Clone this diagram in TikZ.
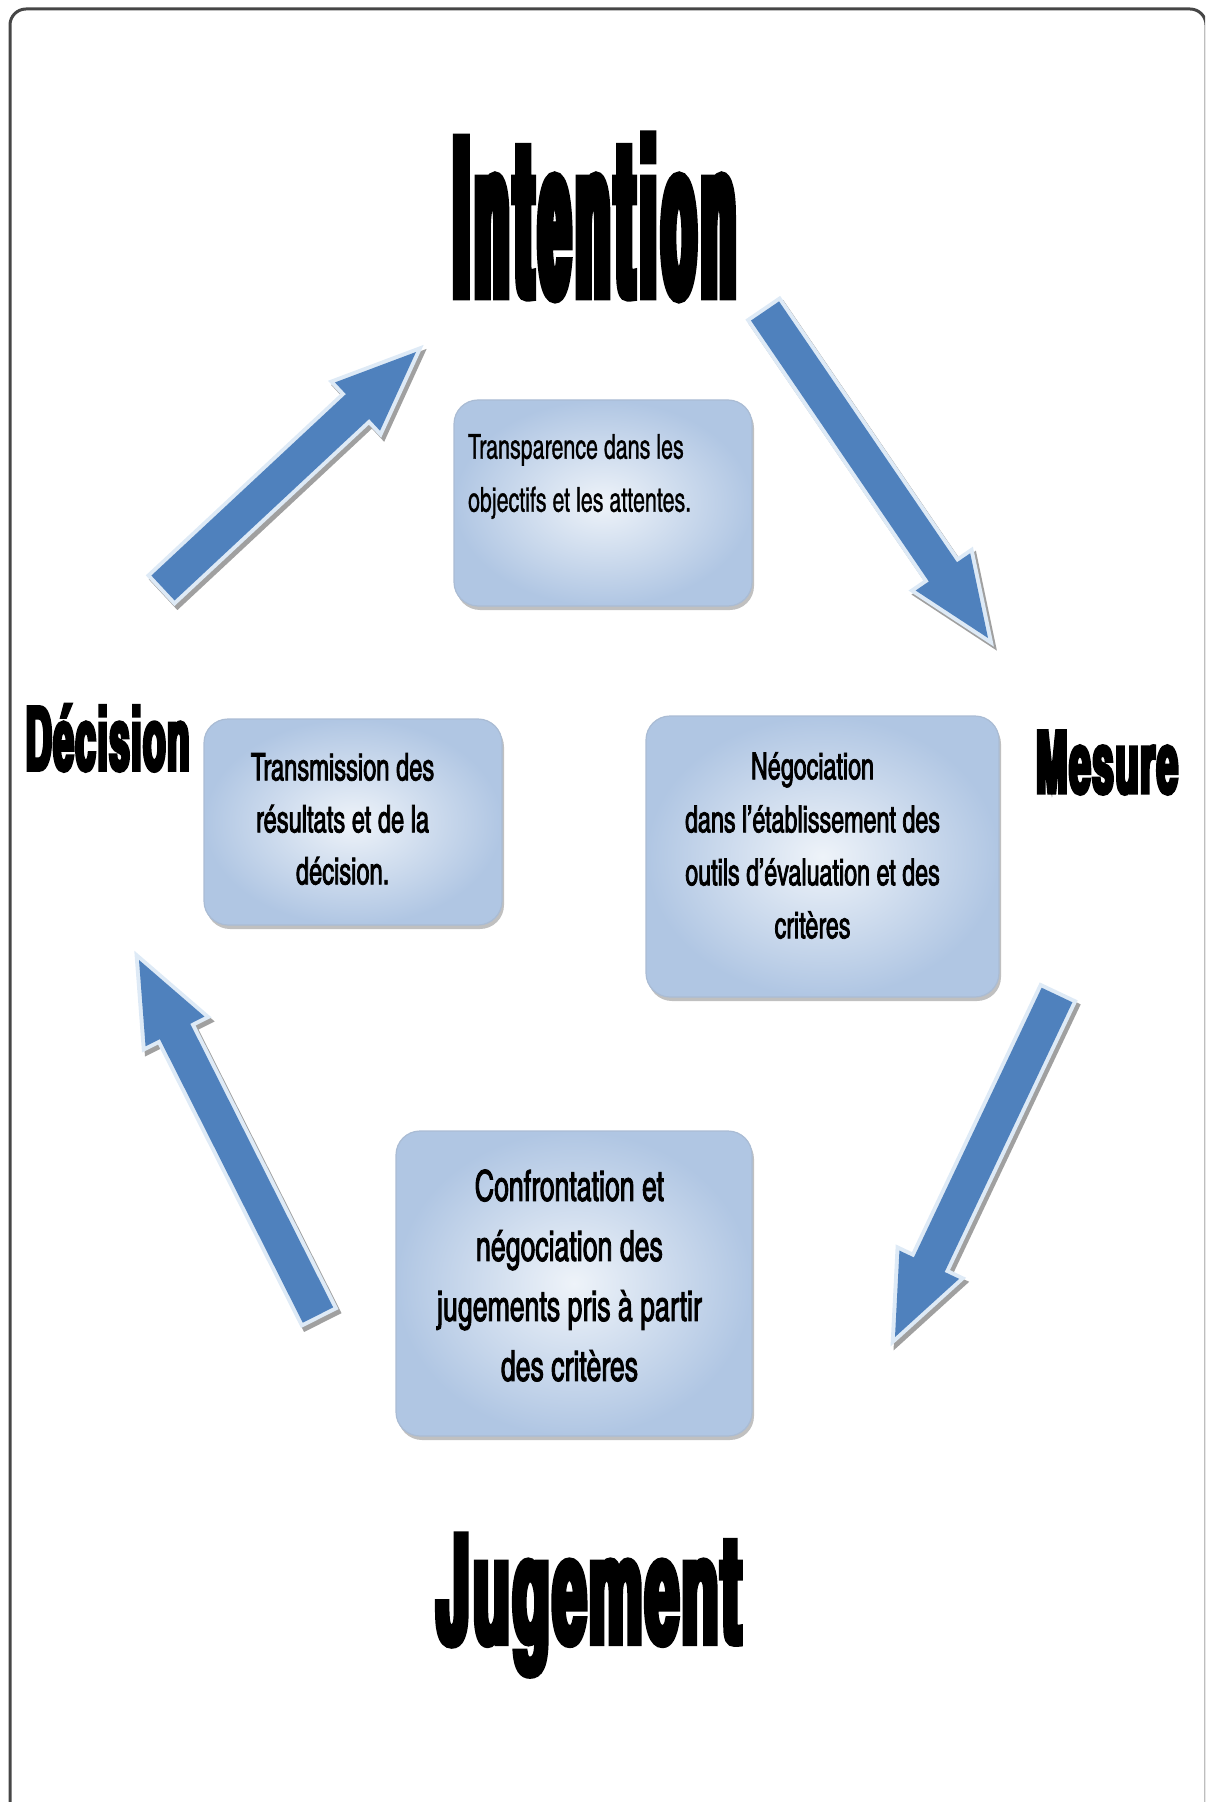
\documentclass[tikz,border=0pt]{standalone}
\usepackage{fontspec}
\usetikzlibrary{calc,shadows}
\newfontfamily\headfont{texgyreheroscn-bold}[Extension=.otf,FakeBold=4]
\newfontfamily\boxfont{texgyreheroscn-regular}[Extension=.otf,FakeStretch=0.76,FakeBold=0.8]
\newfontfamily\boxboldfont{texgyreheroscn-regular}[Extension=.otf,FakeStretch=0.76,FakeBold=2]

\definecolor{arrowblue}{RGB}{79,129,189}
\definecolor{arrowglow}{RGB}{222,234,246}
\definecolor{arrowshade}{RGB}{160,160,160}
\definecolor{boxlight}{RGB}{238,243,249}
\definecolor{boxdark}{RGB}{176,198,227}
\definecolor{boxedge}{RGB}{170,188,212}
\definecolor{framegray}{RGB}{70,70,70}

\tikzset{
  heading/.style={font=\headfont, anchor=base, inner sep=0pt},
  stagebox/.style={rounded corners=12pt, draw=boxedge, line width=0.6pt,
    shading=radial, inner color=boxlight, outer color=boxdark,
    drop shadow={shadow xshift=1pt, shadow yshift=-2pt, opacity=0.55, fill=black!45},
    inner sep=0pt},
  arrowbody/.style={fill=arrowblue, preaction={draw=arrowglow, line width=4pt, line join=miter}},
  arrowshadow/.style={fill=arrowshade, draw=arrowshade, line width=4pt, line join=miter,
    transform canvas={xshift=1.5pt, yshift=-2pt}}
}

% block arrow from #1 (tail) to #2 (tip)
\newcommand{\arrowoutline}[2]{($(#1)!8.5pt!90:(#2)$) -- ($(#2)!40pt!(#1)!8.5pt!-90:(#1)$) -- ($(#2)!40pt!(#1)!16.5pt!-90:(#1)$) -- (#2) -- ($(#2)!40pt!(#1)!16.5pt!90:(#1)$) -- ($(#2)!40pt!(#1)!8.5pt!90:(#1)$) -- ($(#1)!8.5pt!-90:(#2)$) -- cycle}
\newcommand{\cyclearrow}[2]{%
  \path[arrowshadow] \arrowoutline{#1}{#2};
  \path[arrowbody] \arrowoutline{#1}{#2};}

\begin{document}
\begin{tikzpicture}[x=0.5pt, y=-0.5pt]
  \useasboundingbox (0,0) rectangle (1205,1802);
  \clip (0,0) rectangle (1205,1802);
  % outer frame
  \draw[framegray, line width=1.5pt, rounded corners=8pt] (10,1815) -- (10,9) -- (1206,9) -- (1206,1815);

  % the four stages
  \node[heading] (intention) at (594.5,296) {\fontsize{110}{110}\selectfont\addfontfeatures{FakeStretch=0.3,LetterSpace=3}Intention};
  \node[heading] (mesure) at (1107,793) {\fontsize{43.2}{43.2}\selectfont\addfontfeatures{FakeStretch=0.538,LetterSpace=2}Mesure};
  \node[heading] (jugement) at (589,1643) {\fontsize{75.6}{75.6}\selectfont\addfontfeatures{FakeStretch=0.483,LetterSpace=2}Jugement};
  \node[heading] (decision) at (107.5,770) {\fontsize{43.9}{43.9}\selectfont\addfontfeatures{FakeStretch=0.505,LetterSpace=2}Décision};

  % boxes
  \node[stagebox, minimum width=149pt, minimum height=103pt] (transparence) at (603,503)
    {\parbox[c][89pt][t]{135pt}{\boxfont\fontsize{17.2}{26.5}\selectfont\raggedright\vspace*{10pt}Transparence dans les\\ objectifs et les attentes.}};
  \node[stagebox, minimum width=176.5pt, minimum height=140.5pt] (negociation) at (822.5,856.5)
    {\parbox{160pt}{\centering\boxboldfont\fontsize{18.7}{26.5}\selectfont Négociation\\dans l’établissement des\\outils d’évaluation et des\\critères\par\vspace{11pt}}\kern10pt};
  \node[stagebox, minimum width=149pt, minimum height=103pt] (transmission) at (353,822)
    {\parbox{135pt}{\centering\boxboldfont\fontsize{19}{26}\selectfont Transmission des\\résultats et de la\\décision.\par\vspace{3pt}}\kern10.4pt};
  \node[stagebox, minimum width=178pt, minimum height=152.5pt] (confrontation) at (574,1283.5)
    {\parbox{168pt}{\centering\boxboldfont\fontsize{21.4}{30}\selectfont Confrontation et\\négociation des\\jugements pris à partir\\des critères\par\vspace{8pt}}\kern4.6pt};

  % arrows of the cycle
  \coordinate (decout) at (163,588);
  \coordinate (intin) at (416,352);
  \coordinate (intout) at (765,311);
  \coordinate (mesin) at (988,638);
  \coordinate (mesout) at (1057,995);
  \coordinate (jugin) at (895,1337);
  \coordinate (jugout) at (318,1315);
  \coordinate (decin) at (139,960);
  \cyclearrow{decout}{intin}
  \cyclearrow{intout}{mesin}
  \cyclearrow{mesout}{jugin}
  \cyclearrow{jugout}{decin}
\end{tikzpicture}
\end{document}
